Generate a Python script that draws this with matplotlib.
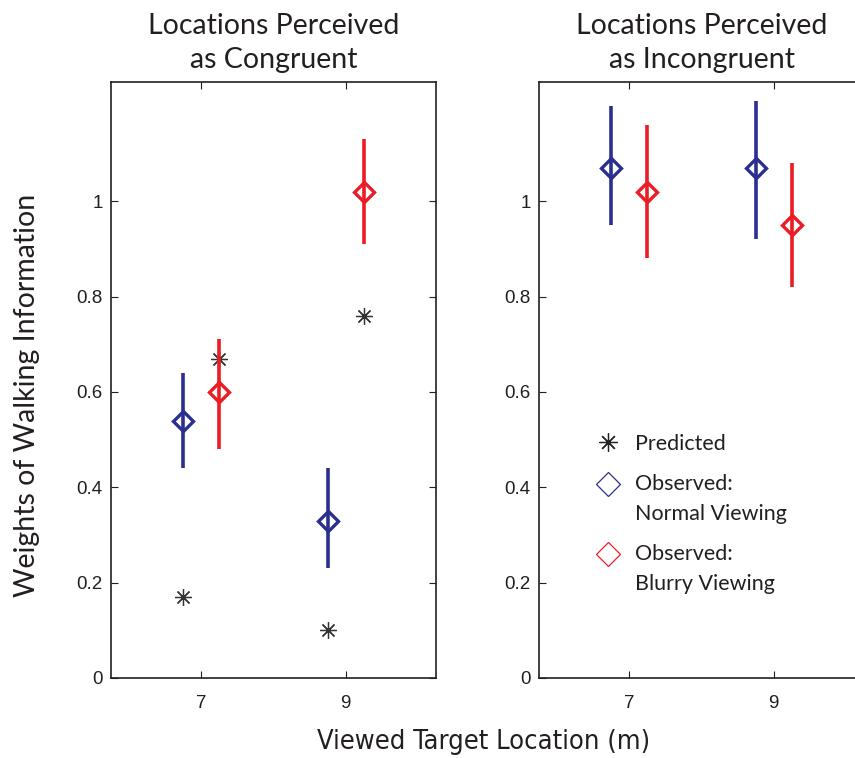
import numpy as np
import matplotlib
matplotlib.use('Agg')
import matplotlib.pyplot as plt
from matplotlib.lines import Line2D
from matplotlib.legend_handler import HandlerLine2D

# target locations (m), offsets of 0.25 around each tick
loc_normal = [6.75, 8.75]
loc_blurry = [7.25, 9.25]
loc_pred = [6.75, 7.25, 8.75, 9.25]

# congruent panel
cong_pred = [0.17, 0.67, 0.10, 0.76]
cong_normal = [0.54, 0.33]
cong_normal_lo = [0.44, 0.23]
cong_normal_hi = [0.64, 0.44]
cong_blurry = [0.60, 1.02]
cong_blurry_lo = [0.48, 0.91]
cong_blurry_hi = [0.71, 1.13]

# incongruent panel
inc_normal = [1.07, 1.07]
inc_normal_lo = [0.95, 0.92]
inc_normal_hi = [1.20, 1.21]
inc_blurry = [1.02, 0.95]
inc_blurry_lo = [0.88, 0.82]
inc_blurry_hi = [1.16, 1.08]

yticks = [0, 0.2, 0.4, 0.6, 0.8, 1]
ytick_labels = ['0', '0.2', '0.4', '0.6', '0.8', '1']
xticks = [7, 9]

blue = '#2b2f8f'
red = '#ec1c24'
txt = '#231f20'
asterisk = (8, 2, 0)

title_font = ['Lato', 'DejaVu Sans']
tick_font = ['Liberation Sans', 'DejaVu Sans']


class HandlerTop(HandlerLine2D):
    # put the marker level with the first line of a two-line label
    def __init__(self, shift, **kw):
        super().__init__(**kw)
        self.shift = shift

    def create_artists(self, legend, orig_handle, xdescent, ydescent, width,
                       height, fontsize, trans):
        arts = super().create_artists(legend, orig_handle, xdescent, ydescent,
                                      width, height, fontsize, trans)
        for a in arts:
            a.set_ydata(np.asarray(a.get_ydata()) + self.shift)
        return arts


def draw_obs(ax, x, y, lo, hi, color):
    x = np.array(x)
    y = np.array(y)
    err = [y - np.array(lo), np.array(hi) - y]
    ax.errorbar(x, y, yerr=err, fmt='D', color=color, ecolor=color,
                elinewidth=2.6, capsize=0, markersize=10,
                markerfacecolor='none', markeredgewidth=2.4, zorder=3)


def style(ax, title):
    ax.set_xlim(5.75, 10.25)
    ax.set_ylim(0, 1.25)
    ax.set_xticks(xticks)
    ax.set_xticklabels([str(t) for t in xticks], family=tick_font, fontsize=13.5, color=txt)
    ax.set_yticks(yticks)
    ax.set_yticklabels(ytick_labels, family=tick_font, fontsize=13.5, color=txt)
    ax.tick_params(direction='in', top=True, right=True, length=5, width=0.8,
                   colors=txt, pad=6)
    ax.tick_params(axis='x', pad=12)
    for s in ax.spines.values():
        s.set_linewidth(1.2)
        s.set_color(txt)
    ax.set_title(title, family=title_font, fontsize=20.5, color=txt, pad=10,
                 linespacing=1.38)


fig = plt.figure(figsize=(8.55, 7.58), dpi=100)
ax1 = fig.add_axes([111 / 855, 80 / 758, 325 / 855, 596 / 758])
ax2 = fig.add_axes([539 / 855, 80 / 758, 325 / 855, 596 / 758])

ax1.plot(loc_pred, cong_pred, ls='none', marker=asterisk, markersize=12,
         color='#333333', markeredgewidth=0.9, zorder=2)
draw_obs(ax1, loc_normal, cong_normal, cong_normal_lo, cong_normal_hi, blue)
draw_obs(ax1, loc_blurry, cong_blurry, cong_blurry_lo, cong_blurry_hi, red)
style(ax1, 'Locations Perceived\nas Congruent')

draw_obs(ax2, loc_normal, inc_normal, inc_normal_lo, inc_normal_hi, blue)
draw_obs(ax2, loc_blurry, inc_blurry, inc_blurry_lo, inc_blurry_hi, red)
style(ax2, 'Locations Perceived\nas Incongruent')
ax2.spines['right'].set_visible(False)

h_pred = Line2D([], [], ls='none', marker=asterisk, markersize=13, color='#222222',
                markeredgewidth=0.9)
h_norm = Line2D([], [], ls='none', marker='D', markersize=12.5, markerfacecolor='none',
                markeredgecolor=blue, markeredgewidth=0.9)
h_blur = Line2D([], [], ls='none', marker='D', markersize=12.5, markerfacecolor='none',
                markeredgecolor=red, markeredgewidth=0.9)
labels = ['Predicted', 'Observed:\nNormal Viewing', 'Observed:\nBlurry Viewing']
leg = ax2.legend([h_pred, h_norm, h_blur], labels, loc='upper left',
                 bbox_to_anchor=(0.11, 0.442),
                 frameon=False, prop={'family': title_font, 'size': 15.5},
                 handlelength=1.3, handletextpad=0.6, labelspacing=0.92,
                 handler_map={h_norm: HandlerTop(11), h_blur: HandlerTop(11)})
for t in leg.get_texts():
    t.set_color(txt)
    t.set_linespacing(1.63)

fig.text(0.032, 0.479, 'Weights of Walking Information', rotation=90,
         ha='center', va='center', family=title_font, fontsize=20.5, color=txt)
fig.text(0.565, 0.021, 'Viewed Target Location (m)', ha='center', va='center',
         family=['Liberation Sans Narrow', 'DejaVu Sans'], fontsize=19.5,
         stretch='condensed', color=txt)

fig.savefig('out.png', dpi=100)
